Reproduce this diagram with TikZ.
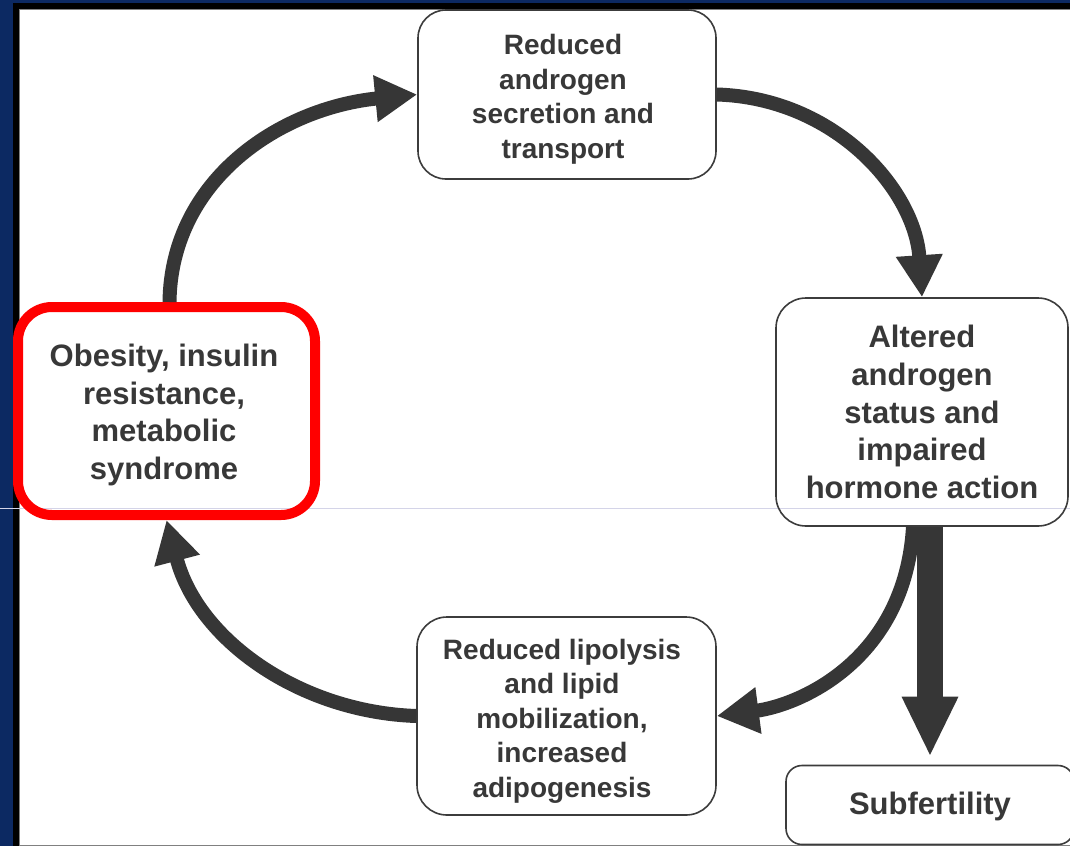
\documentclass[tikz,border=0pt]{standalone}
\usepackage{fontspec}
\setmainfont{Liberation Sans}
\usetikzlibrary{arrows.meta,calc}
\definecolor{navy}{RGB}{12,41,98}
\definecolor{ink}{RGB}{54,54,54}
\definecolor{txt}{RGB}{56,56,56}
\definecolor{boxline}{RGB}{60,60,60}
\definecolor{alertred}{RGB}{255,0,0}
\definecolor{guide}{RGB}{212,212,232}
\definecolor{rim}{RGB}{128,128,128}

\begin{document}
\begin{tikzpicture}[x=1pt,y=-1pt,
  box/.style={draw=boxline, line width=1.6pt, rounded corners=28pt, inner sep=0pt},
  smalltext/.style={align=center, text=txt, inner sep=0pt, font=\bfseries\fontsize{28}{34.5}\selectfont},
  bigtext/.style={smalltext, font=\bfseries\fontsize{31}{37.7}\selectfont},
  flow/.style={draw=ink, line width=14pt, -{Triangle[length=42pt,width=44pt]}},
  bigflow/.style={draw=ink, line width=26pt, -{Triangle[length=60pt,width=52pt]}},
]
\useasboundingbox (0,0) rectangle (1070,846);

% slide frame
\fill[navy] (0,0) rectangle (1070,846);
\fill[black] (13,3) rectangle (1070,846);
\fill[white] (19,10) rectangle (1070,845);
\draw[rim, line width=1pt] (19.5,846) -- (19.5,9.5) -- (1070,9.5);
\draw[rim, line width=1pt] (19,845.5) -- (1070,845.5);
\draw[guide, line width=1pt] (0,508) -- (1070,508);

% stages of the cycle: frames
\node[box, minimum width=298pt, minimum height=169pt] (secretion) at (567,94.5) {};
\node[box, minimum width=292pt, minimum height=228pt, rounded corners=30pt] (status) at (922,412) {};
\node[box, draw=alertred, line width=10pt, rounded corners=34pt,
  minimum width=297pt, minimum height=208pt] (obesity) at (166.5,411) {};
\node[box, minimum width=299pt, minimum height=198pt, rounded corners=30pt] (lipolysis) at (566.5,716) {};
\node[box, minimum width=288pt, minimum height=79pt, rounded corners=16pt] (subfert) at (930,805) {};

% stages of the cycle: labels
\node[smalltext] (secretion-label) at ($(secretion)+(-4,5)$)
  {Reduced\\androgen\\secretion and\\transport};
\node[bigtext] (status-label) at (status)
  {Altered\\androgen\\status and\\impaired\\hormone action};
\node[bigtext] (obesity-label) at ($(obesity)+(-2.5,4)$)
  {Obesity, insulin\\resistance,\\metabolic\\syndrome};
\node[smalltext] (lipolysis-label) at ($(lipolysis)+(-4.5,5)$)
  {Reduced lipolysis\\and lipid\\mobilization,\\increased\\adipogenesis};
\node[bigtext] (subfert-label) at ($(subfert)+(0,1)$) {Subfertility};

% cycle arrows
\draw[flow] ($(obesity.north)+(3,0)$) .. controls (171,180) and (280,108) .. (secretion.west);
\draw[flow] (secretion.east) .. controls (835,98) and (915,190) .. (status.north);
\draw[flow] ($(status.south)+(-9,0)$) .. controls (905,660) and (800,705) .. (lipolysis.east);
\draw[flow] (lipolysis.west) .. controls (300,712) and (198,640) .. (obesity.south);

% outcome arrow
\draw[bigflow] (status.south -| subfert.north) -- ($(subfert.north)+(0,-8)$);
\end{tikzpicture}
\end{document}
